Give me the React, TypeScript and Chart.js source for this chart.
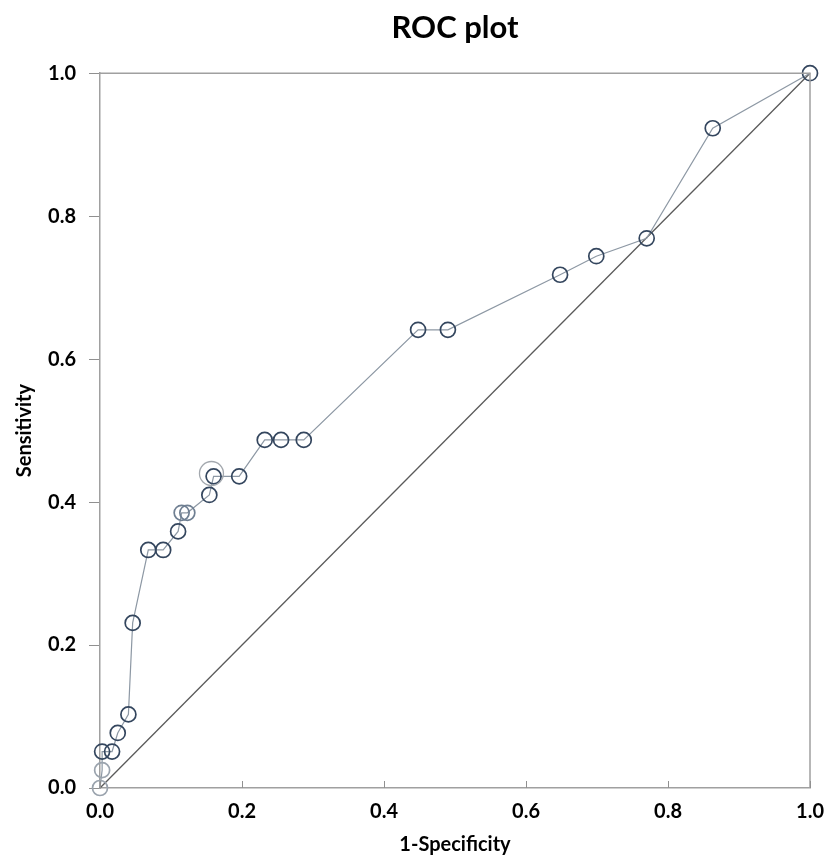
import React, { useEffect, useRef } from "react";
import { Chart, registerables } from "chart.js";

Chart.register(...registerables);

const fprValues = [0, 0.003, 0.003, 0.017, 0.025, 0.04, 0.046, 0.068, 0.089, 0.11, 0.115, 0.123, 0.154, 0.16, 0.196, 0.232, 0.255, 0.287, 0.448, 0.49, 0.648, 0.699, 0.77, 0.863, 1];
const tprValues = [0, 0.025, 0.051, 0.051, 0.077, 0.103, 0.231, 0.333, 0.333, 0.359, 0.385, 0.385, 0.41, 0.436, 0.436, 0.487, 0.487, 0.487, 0.641, 0.641, 0.718, 0.744, 0.769, 0.923, 1];
const cutoffPoint = { x: 0.157, y: 0.44 };
const diagonalX = [0, 1];
const diagonalY = [0, 1];
const tickValues = [0, 0.2, 0.4, 0.6, 0.8, 1.0];

const FONT = "Lato, 'Open Sans', sans-serif";

const framePlugin = {
  id: "frame",
  afterDraw(chart: any) {
    const { ctx, chartArea, scales } = chart;
    ctx.save();
    ctx.strokeStyle = "#a0a0a0";
    ctx.lineWidth = 1.5;
    ctx.beginPath();
    ctx.moveTo(chartArea.left, chartArea.top);
    ctx.lineTo(chartArea.right, chartArea.top);
    ctx.lineTo(chartArea.right, chartArea.bottom);
    ctx.stroke();
    ctx.strokeStyle = "#909090";
    ctx.lineWidth = 1;
    for (const v of tickValues) {
      const px = Math.round(scales.x.getPixelForValue(v)) + 0.5;
      ctx.beginPath();
      ctx.moveTo(px, chartArea.bottom);
      ctx.lineTo(px, chartArea.bottom - 7);
      ctx.stroke();
    }
    ctx.restore();
  },
};

export default function App() {
  const ref = useRef<HTMLCanvasElement | null>(null);
  useEffect(() => {
    document.body.style.margin = "0";
    const light = "#9aa3ad";
    const mid = "#6f7f92";
    const dark = "#34465e";
    const chart = new Chart(ref.current as HTMLCanvasElement, {
      type: "scatter",
      data: {
        datasets: [
          {
            label: "Diagonal",
            data: diagonalX.map((x, i) => ({ x, y: diagonalY[i] })),
            showLine: true,
            borderColor: "#5a5a5a",
            borderWidth: 1.3,
            pointRadius: 0,
            clip: false,
            order: 3,
          },
          {
            label: "ROC",
            data: fprValues.map((x, i) => ({ x, y: tprValues[i] })),
            showLine: true,
            borderColor: "#8d98a4",
            borderWidth: 1.2,
            pointRadius: 7.5,
            pointBorderWidth: 1.7,
            pointBackgroundColor: "rgba(0,0,0,0)",
            pointBorderColor: (c: any) =>
              c.dataIndex <= 1 ? light : c.dataIndex === 10 || c.dataIndex === 11 ? mid : dark,
            clip: false,
            order: 2,
          },
          {
            label: "Cutoff",
            data: [cutoffPoint],
            pointRadius: 12,
            pointBorderWidth: 1.3,
            pointBackgroundColor: "rgba(0,0,0,0)",
            pointBorderColor: "#a3a8ae",
            clip: false,
            order: 1,
          },
        ],
      },
      options: {
        animation: false,
        responsive: false,
        layout: { padding: { left: 0, right: 16, top: 0, bottom: 0 } },
        plugins: {
          legend: { display: false },
          tooltip: { enabled: false },
          title: {
            display: true,
            text: "ROC plot",
            fullSize: false,
            color: "#000",
            font: { family: FONT, size: 31, weight: "bold" },
            padding: { top: 9, bottom: 27 },
          },
        },
        scales: {
          x: {
            type: "linear",
            min: 0,
            max: 1,
            afterBuildTicks: (s: any) => {
              s.ticks = tickValues.map((v) => ({ value: v }));
            },
            afterFit: (s: any) => {
              s.height = 71;
              s.paddingLeft = 0;
              s.paddingRight = 0;
            },
            grid: { display: false, drawOnChartArea: false, drawTicks: false },
            border: { display: true, color: "#a0a0a0", width: 1.5 },
            ticks: {
              color: "#000",
              padding: 12,
              maxRotation: 0,
              font: { family: FONT, size: 20, weight: "bold" },
              callback: (v: any) => Number(v).toFixed(1),
            },
            title: {
              display: true,
              text: "1-Specificity",
              color: "#000",
              font: { family: FONT, size: 20, weight: "bold" },
              padding: { top: 0, bottom: 2 },
            },
          },
          y: {
            type: "linear",
            min: 0,
            max: 1,
            afterBuildTicks: (s: any) => {
              s.ticks = tickValues.map((v) => ({ value: v }));
            },
            afterFit: (s: any) => {
              s.width = 100;
            },
            grid: { display: true, drawOnChartArea: false, drawTicks: true, tickLength: 11, color: "#909090" },
            border: { display: true, color: "#a0a0a0", width: 1.5 },
            ticks: {
              color: "#000",
              padding: 13,
              font: { family: FONT, size: 20, weight: "bold" },
              callback: (v: any) => Number(v).toFixed(1),
            },
            title: {
              display: true,
              text: "Sensitivity",
              color: "#000",
              font: { family: FONT, size: 20, weight: "bold" },
              padding: { top: 13, bottom: 0 },
            },
          },
        },
      },
      plugins: [framePlugin],
    });
    return () => chart.destroy();
  }, []);
  return (
    <div style={{ width: 826, height: 859 }}>
      <canvas ref={ref} width={826} height={859} style={{ display: "block" }} />
    </div>
  );
}
